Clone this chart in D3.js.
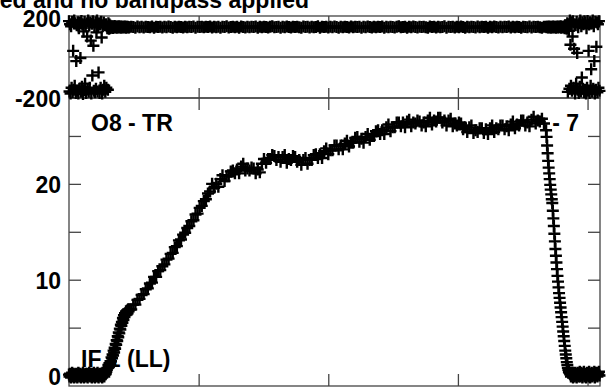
<!DOCTYPE html>
<html>
<head>
<meta charset="utf-8">
<script src="https://cdn.jsdelivr.net/npm/d3@7"></script>
<style>
body{margin:0;background:#fff;}
svg{display:block;font-family:"Liberation Sans",Arial,sans-serif;font-weight:bold;}
</style>
</head>
<body>
<svg id="chart" width="607" height="389"></svg>
<script>
// channel grid: every 2nd channel where phase is noisy / band edges are steep, every 8th elsewhere
var chan1 = d3.range(0, 232, 2);
var chan2 = d3.range(232, 1840, 8);
var chan3 = d3.range(1840, 1916, 2);
var chan4 = d3.range(1916, 2048, 2);

var amp1 = [0.1,-0.1,0.2,0.0,-0.2,0.1,0.3,-0.1,0.0,0.2,
  -0.2,0.1,0.0,-0.1,0.2,0.1,-0.2,0.0,0.3,0.2,
  -0.1,0.0,0.2,-0.2,0.1,-0.1,0.0,0.3,0.1,-0.2,
  0.1,0.0,0.2,-0.1,0.1,0.2,-0.2,0.0,0.1,0.3,
  0.0,-0.1,0.2,0.1,-0.2,0.0,0.2,-0.1,0.3,0.1,
  -0.2,0.1,0.0,0.2,-0.1,0.3,0.0,-0.2,0.1,0.2,
  0.0,-0.1,0.2,0.1,-0.2,0.3,0.0,0.1,-0.1,0.2,
  0.1,0.2,0.4,0.6,0.75,
  0.8,1.1,0.9,1.3,1.2,1.5,1.5,1.9,1.8,2.2,
  2.1,2.6,2.4,2.9,2.8,3.3,3.2,3.7,3.6,4.1,
  4.0,4.5,4.4,4.9,4.8,5.3,5.2,5.6,5.5,6.0,
  5.8,6.3,6.1,6.5,6.3,6.7,6.4,6.8,6.5,6.9,
  6.7];
var amp2 = [6.9,6.9,7.4,7.4,7.9,8.0,8.4,8.5,9.0,9.1,
  9.6,9.7,10.3,10.3,10.9,11.0,11.4,11.6,12.1,12.2,
  12.7,12.8,13.4,13.5,14.1,14.2,14.7,14.9,15.4,15.6,
  16.1,16.2,16.8,16.9,17.5,17.7,18.2,18.4,19.0,19.2,
  20.0,19.6,20.0,19.7,20.5,20.9,20.3,20.8,20.8,21.3,
  21.4,21.1,21.5,21.1,21.8,22.1,21.4,21.6,21.4,21.7,
  21.6,21.1,21.5,21.2,22.1,22.6,22.2,22.6,22.6,23.0,
  22.9,22.5,22.8,22.3,22.8,23.0,22.2,22.6,22.5,22.9,
  22.8,22.3,22.5,22.0,22.5,22.7,22.1,22.5,22.5,23.0,
  23.1,22.7,23.1,22.7,23.4,23.7,23.1,23.5,23.5,24.0,
  24.0,23.6,24.0,23.6,24.2,24.5,23.9,24.3,24.3,24.8,
  24.9,24.4,24.7,24.3,24.9,25.2,24.6,25.0,25.0,25.5,
  25.6,25.2,25.6,25.2,25.9,26.2,25.5,25.9,25.9,26.4,
  26.4,26.0,26.4,25.9,26.5,26.7,26.0,26.4,26.3,26.6,
  26.5,26.1,26.4,26.0,26.6,26.9,26.2,26.6,26.5,26.9,
  26.9,26.4,26.6,26.1,26.6,26.8,26.0,26.3,26.1,26.4,
  26.3,25.7,25.9,25.4,25.9,26.1,25.3,25.6,25.4,25.8,
  25.8,25.3,25.7,25.2,25.8,26.1,25.4,25.8,25.7,26.1,
  26.1,25.7,26.0,25.6,26.2,26.5,25.8,26.2,26.1,26.6,
  26.6,26.1,26.4,26.0,26.7,27.0,26.3,26.6,26.5,26.8,
  26.3];
var amp3 = [25.6,24.9,24.0,23.2,22.4,21.7,21.1,20.5,19.9,19.4,
  18.9,18.4,18.0,17.2,16.4,15.6,14.8,14.0,13.2,12.5,
  11.8,11.1,10.4,9.8,9.2,8.6,8.1,7.6,7.1,6.6,
  6.1,5.6,5.1,4.6,4.1,3.6,3.1,2.6];
var amp4 = [2.2,1.8,1.4,1.1,0.8,0.6,0.4,0.3,0.2,0.1,
  -0.1,0.2,0.0,0.3,-0.2,0.1,0.2,-0.1,0.3,0.0,
  0.2,-0.2,0.1,0.3,0.0,-0.1,0.2,0.4,-0.1,0.1,
  0.3,0.0,-0.2,0.2,0.1,0.4,-0.1,0.0,0.2,-0.2,
  0.1,0.3,0.0,0.2,-0.1,0.4,0.1,-0.2,0.2,0.0,
  0.3,-0.1,0.1,0.2,0.0,0.4,-0.2,0.1,0.3,0.0,
  0.2,-0.1,0.3,0.1,0.4,0.0];

var ph1 = [175,-168,160,-178,150,-150,172,-172,30,-160,
  178,-140,165,-175,-20,155,-165,170,-178,140,
  -155,168,-5,-170,176,-145,160,-180,125,-162,
  172,-130,150,-176,165,100,-158,178,-170,155,
  -150,168,80,-178,162,-90,175,55,-165,150,
  -172,170,-155,120,178,-168,145,-75,165,-175,
  158,-150,172,95,-178,150,-160,168,-140,155,
  -170,160,-150,150,140,
  -160,165,138,158,140,152,143,149,145,150,
  142,147,146,151,144,148,145,149,143,147,
  146,150,144,148,145,149,143,147,146,148,
  144,147,145,149,146,143,148,145,147,146,
  144];
var ph2 = [145,148,146,143,149,145,147,144,148,146,
  145,149,143,147,146,148,144,147,145,149,
  146,143,148,145,147,146,144,148,145,147,
  146,149,143,147,146,148,145,147,146,149,
  144,147,145,148,143,147,146,150,144,146,
  148,145,147,143,149,146,144,148,145,147,
  146,149,143,147,145,148,146,144,147,150,
  145,146,148,143,147,145,149,146,144,147,
  146,148,145,143,149,146,147,144,148,145,
  146,150,143,147,146,148,144,147,145,149,
  146,143,148,145,147,146,144,149,145,147,
  146,148,143,147,145,149,146,144,148,145,
  147,146,149,143,147,145,148,146,144,147,
  150,145,146,148,143,147,145,149,146,144,
  147,146,148,145,143,149,146,147,144,148,
  145,146,150,143,147,146,148,144,147,145,
  149,146,143,148,145,147,146,144,149,145,
  147,146,148,143,147,145,149,146,144,148,
  145,147,146,149,144,148,145,147,146,143,
  148,146,145,149,144,147,146,148,145,143,
  147];
var ph3 = [147,145,148,146,144,149,145,147,146,143,
  148,146,145,149,144,147,146,148,145,143,
  147,146,149,144,148,145,147,146,150,143,
  147,145,148,146,144,149,140,152];
var ph4 = [148,152,138,165,-170,160,128,-155,178,60,
  -140,170,-165,100,175,-150,40,160,-178,155,
  -130,172,20,-160,145,-175,165,-145,178,-168,
  150,-100,170,-155,160,-172,175,-160,168,-178,
  140,-150,176,-165,30,158,-175,170,-140,-60,
  165,-170,178,-155,150,-20,-178,172,-160,50,
  168,-172,160,-150,175,-165];

var xTicks = [500, 1000, 1500, 2000];
var ampTicks = [0, 5, 10, 15, 20, 25];
var ampLabels = [0, 10, 20];
var phLabels = [200, -200];

var chans = [].concat(chan1, chan2, chan3, chan4);
var amps = [].concat(amp1, amp2, amp3, amp4);
var phases = [].concat(ph1, ph2, ph3, ph4);

var svg = d3.select("#chart");
var frameColor = "#444";
var fontSize = "23px";

var x = d3.scaleLinear().domain([0, 2048]).range([69, 600]);
var yPh = d3.scaleLinear().domain([-200, 200]).range([98, 16]);
var yAmp = d3.scaleLinear().domain([-1.09, 28.96]).range([386, 98]);

// title, cut off at the top of the picture
svg.append("text")
  .attr("x", 309).attr("y", 7.5)
  .attr("text-anchor", "end")
  .style("font-size", fontSize)
  .text("ed and no bandpass applied");

// frames
svg.append("rect")
  .attr("x", 69).attr("y", 16).attr("width", 531).attr("height", 82)
  .attr("fill", "none").attr("stroke", frameColor).attr("stroke-width", 1.3);
svg.append("line")
  .attr("x1", 69).attr("x2", 600).attr("y1", yPh(0)).attr("y2", yPh(0))
  .attr("stroke", frameColor).attr("stroke-width", 1.3);
svg.append("rect")
  .attr("x", 69).attr("y", 98).attr("width", 531).attr("height", 288)
  .attr("fill", "none").attr("stroke", frameColor).attr("stroke-width", 1.3);

function tickAxis(axis, tx, ty){
  var g = svg.append("g")
    .attr("transform", "translate(" + tx + "," + ty + ")")
    .call(axis);
  g.select(".domain").remove();
  g.selectAll("text").remove();
  g.selectAll("line").attr("stroke", frameColor).attr("stroke-width", 1.3);
}

// inward ticks
tickAxis(d3.axisTop(x).tickValues(xTicks).tickSize(12), 0, 386);
tickAxis(d3.axisBottom(x).tickValues(xTicks).tickSize(12), 0, 98);
tickAxis(d3.axisTop(x).tickValues(xTicks).tickSize(10), 0, 98);
tickAxis(d3.axisBottom(x).tickValues(xTicks).tickSize(6), 0, 16);
tickAxis(d3.axisRight(yAmp).tickValues(ampTicks).tickSize(12), 69, 0);
tickAxis(d3.axisLeft(yAmp).tickValues(ampTicks).tickSize(12), 600, 0);

// y labels
svg.selectAll("text.amplab")
  .data(ampLabels)
  .enter().append("text")
  .attr("class", "amplab")
  .attr("x", 61)
  .attr("y", function(d){ return yAmp(d) + 9; })
  .attr("text-anchor", "end")
  .style("font-size", fontSize)
  .text(function(d){ return d; });

svg.selectAll("text.phlab")
  .data(phLabels)
  .enter().append("text")
  .attr("class", "phlab")
  .attr("x", 61)
  .attr("y", function(d){ return yPh(d) + (d > 0 ? 11 : 9); })
  .attr("text-anchor", "end")
  .style("font-size", fontSize)
  .text(function(d){ return d; });

// panel annotations
svg.append("text").attr("x", 91).attr("y", 131).style("font-size", fontSize).text("O8 - TR");
svg.append("text").attr("x", 579).attr("y", 131).attr("text-anchor", "end").style("font-size", fontSize).text("- 7");
svg.append("text").attr("x", 81).attr("y", 367).style("font-size", fontSize).text("IF 1 (LL)");

// data, drawn as + markers
var plus = "M-6,0H6M0,-6V6";

function drawMarks(yScale, vals){
  svg.append("g").selectAll("path")
    .data(d3.range(chans.length))
    .enter().append("path")
    .attr("d", plus)
    .attr("transform", function(i){ return "translate(" + x(chans[i]) + "," + yScale(vals[i]) + ")"; })
    .attr("fill", "none").attr("stroke", "#000").attr("stroke-width", 2.4);
}

drawMarks(yPh, phases);
drawMarks(yAmp, amps);
</script>
</body>
</html>
